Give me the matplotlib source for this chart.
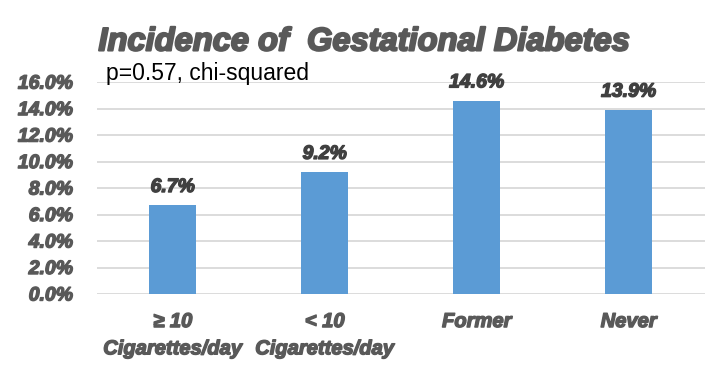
import matplotlib.pyplot as plt
import matplotlib.patheffects as pe
from matplotlib.ticker import FuncFormatter

categories = ['\u2265 10\nCigarettes/day', '< 10\nCigarettes/day', 'Former', 'Never']
incidence = [6.7, 9.2, 14.6, 13.9]
bar_labels = ['6.7%', '9.2%', '14.6%', '13.9%']
y_ticks = [0, 2, 4, 6, 8, 10, 12, 14, 16]

plt.rcParams['font.family'] = ['Liberation Sans', 'DejaVu Sans']

gray = '#595959'
dark = '#404040'


def heavy(color, w=1.0):
    # fake a heavier weight than plain bold
    return [pe.withStroke(linewidth=w, foreground=color)]


fig = plt.figure(figsize=(7.28, 3.75), dpi=100)
ax = fig.add_axes([0.133, 0.216, 0.835, 0.565])

x = range(len(categories))
bars = ax.bar(x, incidence, width=0.31, color='#5B9BD5', zorder=3)

for b, lab in zip(bars, bar_labels):
    ax.text(b.get_x() + b.get_width() / 2, b.get_height() + 0.7, lab,
            ha='center', va='bottom', fontsize=14, fontweight='bold',
            fontstyle='italic', color=dark, path_effects=heavy(dark))

ax.set_xlim(-0.5, len(categories) - 0.5)
ax.set_ylim(0, 16)
ax.set_yticks(y_ticks)
ax.yaxis.set_major_formatter(FuncFormatter(lambda v, p: f'{v:.1f}%'))
ax.grid(axis='y', color='#D9D9D9', linewidth=1.3, zorder=0)
ax.set_xticks(list(x))
ax.set_xticklabels(categories, linespacing=1.55)

for s in ax.spines.values():
    s.set_visible(False)
ax.tick_params(axis='both', length=0)
ax.tick_params(axis='y', pad=17)
ax.tick_params(axis='x', pad=13)
for t in ax.get_yticklabels():
    t.set_fontsize(14)
for t in ax.get_xticklabels():
    t.set_fontsize(14.5)
for t in ax.get_xticklabels() + ax.get_yticklabels():
    t.set_fontweight('bold')
    t.set_fontstyle('italic')
    t.set_color(gray)
    t.set_path_effects(heavy(gray))

fig.text(0.5, 0.888, 'Incidence of  Gestational Diabetes', ha='center', va='center',
         fontsize=23.5, fontweight='bold', fontstyle='italic', color=gray,
         path_effects=heavy(gray, 1.5))
fig.text(0.146, 0.805, 'p=0.57, chi-squared', ha='left', va='center',
         fontsize=16.5, color='black')

fig.savefig('out.png', dpi=100)
